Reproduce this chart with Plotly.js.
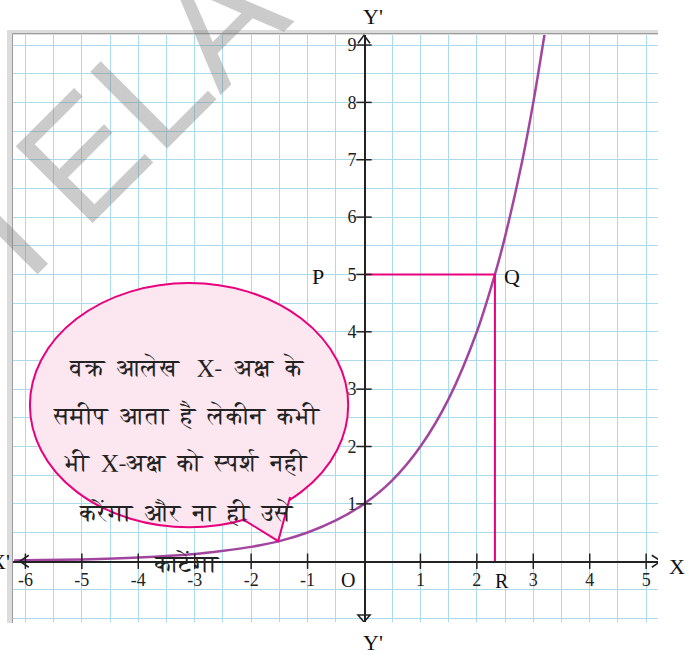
<!DOCTYPE html>
<html>
<head>
<meta charset="utf-8">
<script src="https://cdn.plot.ly/plotly-3.0.1.min.js"></script>
<style>html,body{margin:0;padding:0;background:#fff;}#chart{width:691px;height:655px;}</style>
</head>
<body>
<div id="chart"></div>
<script>
// curve values
const curveX = [-6.2, -6, -5, -4, -3, -2.5, -2, -1.5, -1, -0.5, 0, 0.5, 1, 1.5, 2, 2.32, 2.5, 2.8, 3, 3.25];
const curveY = [0.014, 0.016, 0.031, 0.063, 0.125, 0.18, 0.25, 0.35, 0.5, 0.71, 1, 1.41, 2, 2.83, 4, 5, 5.66, 6.96, 8, 9.5];
// point Q
const qX = 2.32, qY = 5;
const xTicks = [-6, -5, -4, -3, -2, -1, 1, 2, 3, 4, 5];
const xTickText = ['-6', '-5', '-4', '-3', '-2', '-1', '1', '2', '3', '4', '5'];
const yTicks = [1, 2, 3, 4, 5, 6, 7, 8, 9];
const yTickText = ['1', '2', '3', '4', '5', '6', '7', '8', '9'];
const bubbleLines = [
  'वक्र  आलेख   X-  अक्ष  के',
  'समीप  आता  है  लेकीन  कभी',
  'भी  X-अक्ष  को  स्पर्श  नही',
  'करेंगा  और  ना  ही  उसे',
  'काटेंगा'
];

const xRange = [-6.22, 5.21];
const yRange = [-1.06, 9.21];
const L = 13, R = 33, T = 33, B = 33, W = 691, H = 655;
const pw = W - L - R, ph = H - T - B;
const px = v => (v - L) / pw;          // page x pixel -> paper
const py = v => (H - B - v) / ph;      // page y pixel -> paper

const serif = 'Liberation Serif, Times New Roman, serif';
const grid = '#a9dbe8';
const pink = '#e8007d';
const ink = '#222';

const traces = [
  {x: curveX, y: curveY, mode: 'lines', line: {color: '#a2459f', width: 2.5, shape: 'spline'}, hoverinfo: 'skip'},
  {x: [0, qX, qX], y: [qY, qY, 0], mode: 'lines', line: {color: pink, width: 2}, hoverinfo: 'skip'},
  {x: xTicks, y: xTicks.map(() => 0), mode: 'markers', marker: {symbol: 'line-ns-open', size: 11, color: ink, line: {color: ink, width: 1.5}}, hoverinfo: 'skip'},
  {x: yTicks.map(() => 0), y: yTicks, mode: 'markers', marker: {symbol: 'line-ew-open', size: 11, color: ink, line: {color: ink, width: 1.5}}, hoverinfo: 'skip'}
];

const yAxisPos = (0 - xRange[0]) / (xRange[1] - xRange[0]);
const xAxisPos = (0 - yRange[0]) / (yRange[1] - yRange[0]);

const shapes = [
  // gray page border (left & top)
  {type: 'rect', xref: 'paper', yref: 'paper', x0: px(7), x1: px(12.5), y0: py(623), y1: py(30), fillcolor: '#dcdcdc', line: {width: 0}, layer: 'above'},
  {type: 'rect', xref: 'paper', yref: 'paper', x0: px(7), x1: px(658), y0: py(35), y1: py(30), fillcolor: '#dcdcdc', line: {width: 0}, layer: 'above'},
  {type: 'line', xref: 'paper', yref: 'paper', x0: px(12.5), x1: px(12.5), y0: py(623), y1: py(33.5), line: {color: '#9c9c9c', width: 1}, layer: 'above'},
  {type: 'line', xref: 'paper', yref: 'paper', x0: px(12.5), x1: px(658), y0: py(33.5), y1: py(33.5), line: {color: '#9c9c9c', width: 1}, layer: 'above'},
  // speech bubble
  {type: 'circle', xref: 'x', yref: 'y', x0: -5.92, x1: -0.28, y0: 0.59, y1: 4.85, fillcolor: '#fce6f0', line: {color: pink, width: 2}, layer: 'above'},
  {type: 'path', xref: 'x', yref: 'y', path: 'M -2.15,0.78 L -1.52,0.35 L -1.31,1.12 L -1.5,1.2 L -2.1,1.0 Z', fillcolor: '#fce6f0', line: {width: 0}, layer: 'above'},
  {type: 'path', xref: 'x', yref: 'y', path: 'M -2.13,0.72 L -1.52,0.35 L -1.31,1.12', line: {color: pink, width: 2}, layer: 'above'},
  // axis arrowheads
  {type: 'path', xref: 'x', yref: 'y', xsizemode: 'pixel', ysizemode: 'pixel', xanchor: 5.26, yanchor: 0, path: 'M -9,6 L 0,0 L -9,-6', line: {color: ink, width: 1.6}, layer: 'above'},
  {type: 'path', xref: 'x', yref: 'y', xsizemode: 'pixel', ysizemode: 'pixel', xanchor: -6.1, yanchor: 0, path: 'M 9,6 L 0,0 L 9,-6', line: {color: ink, width: 1.6}, layer: 'above'},
  {type: 'path', xref: 'x', yref: 'y', xsizemode: 'pixel', ysizemode: 'pixel', xanchor: 0, yanchor: 9.17, path: 'M -6,-8 L 0,0 L 6,-8', line: {color: ink, width: 1.6}, layer: 'above'},
  {type: 'path', xref: 'x', yref: 'y', xsizemode: 'pixel', ysizemode: 'pixel', xanchor: 0, yanchor: -1.06, path: 'M -6,7 L 0,0 L 6,7 Z', line: {color: ink, width: 1.6}, layer: 'above'}
];

const ann = (text, x, y, size, extra) => Object.assign({text: text, x: x, y: y, xref: 'x', yref: 'y', showarrow: false,
  xanchor: 'center', yanchor: 'middle', font: {family: serif, size: size, color: '#111'}}, extra || {});
const pann = (text, x, y, size, extra) => ann(text, px(x), py(y), size, Object.assign({xref: 'paper', yref: 'paper'}, extra || {}));

const bubbleY = [3.39, 2.55, 1.71, 0.855, -0.035];
const annotations = [
  pann("Y'", 373, 16, 22),
  pann("Y'", 373, 642, 22),
  pann('X', 677, 566, 22),
  pann("X'", 12, 561, 22, {xanchor: 'right'}),
  ann('P', -0.82, 4.97, 22),
  ann('Q', 2.62, 4.96, 22),
  ann('R', 2.45, -0.34, 20),
  ann('O', -0.28, -0.33, 20)
];
bubbleLines.forEach((t, i) => annotations.push(ann(t, -3.14, bubbleY[i], 24, {font: {family: 'FreeSerif, Noto Serif, Liberation Serif, serif', size: 24, color: '#222'}})));
const wm = {family: 'Liberation Sans, Arial, sans-serif', size: 158, color: 'rgba(130,130,130,0.42)'};
annotations.push({text: 'ELA', xref: 'paper', yref: 'paper', x: px(150), y: py(88), xanchor: 'center', yanchor: 'middle', showarrow: false, textangle: -45, font: wm});
annotations.push({text: 'I', xref: 'paper', yref: 'paper', x: px(4), y: py(230), xanchor: 'center', yanchor: 'middle', showarrow: false, textangle: -45, font: wm});

const layout = {
  width: W, height: H,
  margin: {l: L, r: R, t: T, b: B, pad: 0},
  paper_bgcolor: '#fff', plot_bgcolor: '#fff',
  showlegend: false,
  xaxis: {range: xRange, tickvals: xTicks, ticktext: xTickText, showgrid: true, gridcolor: grid, gridwidth: 1,
    minor: {dtick: 0.5, tick0: 0, showgrid: true, gridcolor: grid, gridwidth: 1},
    zeroline: false, showline: true, linecolor: ink, linewidth: 1.6, anchor: 'free', position: xAxisPos,
    ticks: '', ticklabelstandoff: 2, tickfont: {family: serif, size: 18, color: '#222'}, fixedrange: true},
  yaxis: {range: yRange, tickvals: yTicks, ticktext: yTickText, showgrid: true, gridcolor: grid, gridwidth: 1,
    minor: {dtick: 0.5, tick0: 0, showgrid: true, gridcolor: grid, gridwidth: 1},
    zeroline: false, showline: true, linecolor: ink, linewidth: 1.6, anchor: 'free', position: yAxisPos,
    ticks: '', ticklabelstandoff: 4, tickfont: {family: serif, size: 18, color: '#222'}, fixedrange: true},
  shapes: shapes,
  annotations: annotations
};

Plotly.newPlot('chart', traces, layout, {displayModeBar: false, staticPlot: true});
</script>
</body>
</html>
